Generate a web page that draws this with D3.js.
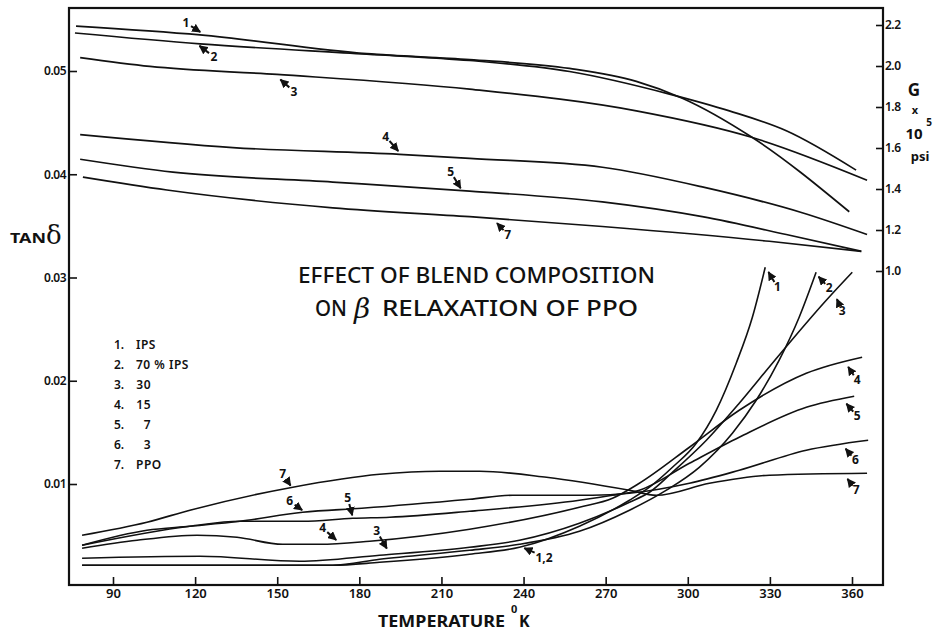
<!DOCTYPE html>
<html>
<head>
<meta charset="utf-8">
<script src="https://cdn.jsdelivr.net/npm/d3@7"></script>
<style>
  body { margin: 0; background: #fff; }
  svg { display: block; }
  text { font-family: "Noto Sans", "DejaVu Sans", sans-serif; fill: #111; }
</style>
</head>
<body>
<div id="chart"></div>
<script>
// temperature ticks (K) and axis tick values
const tempTicks = [90, 120, 150, 180, 210, 240, 270, 300, 330, 360];
const tanTicks = [0.01, 0.02, 0.03, 0.04, 0.05];
const gTicks = [1.0, 1.2, 1.4, 1.6, 1.8, 2.0, 2.2];

// shear modulus G x 10^5 psi (right axis), [T, G]
const gCurve1 = [[76.5, 2.195], [121.8, 2.152], [182.7, 2.06], [220.3, 2.031], [256.8, 1.988], [281.2, 1.925], [298.0, 1.843], [323.6, 1.651], [359.0, 1.289]];
const gCurve2 = [[76.1, 2.161], [121.8, 2.108], [182.7, 2.058], [220.3, 2.027], [256.8, 1.973], [293.3, 1.863], [315.2, 1.781], [336.0, 1.684], [361.5, 1.492]];
const gCurve3 = [[78.0, 2.041], [103.5, 1.998], [149.9, 1.959], [220.3, 1.887], [281.2, 1.781], [323.6, 1.651], [365.5, 1.443]];
const gCurve4 = [[78.0, 1.665], [133.8, 1.602], [194.7, 1.569], [220.3, 1.549], [268.8, 1.506], [305.3, 1.41], [341.8, 1.284], [365.5, 1.178]];
const gCurve5 = [[78.0, 1.545], [111.9, 1.482], [170.3, 1.434], [220.3, 1.39], [268.8, 1.337], [305.3, 1.265], [336.0, 1.178], [363.4, 1.096]];
const gCurve7 = [[79.0, 1.458], [109.7, 1.395], [170.3, 1.308], [220.3, 1.265], [268.8, 1.217], [329.8, 1.145], [363.4, 1.096]];

// loss tangent (left axis), [T, tan delta]
const tanCurve1 = [[78.7, 0.00213], [170.3, 0.00213], [187.4, 0.00242], [220.3, 0.0032], [238.5, 0.00387], [260.4, 0.00591], [278.7, 0.00843], [286.0, 0.00969], [294.4, 0.01162], [303.1, 0.01395], [310.4, 0.01714], [317.7, 0.0217], [323.6, 0.02615], [328.3, 0.03099]];
const tanCurve2 = [[78.7, 0.00213], [170.3, 0.00213], [187.4, 0.00271], [220.3, 0.00358], [238.5, 0.00416], [260.4, 0.00542], [278.7, 0.00746], [292.2, 0.0094], [304.2, 0.01162], [316.3, 0.01492], [325.0, 0.01811], [333.4, 0.02199], [340.7, 0.02615], [346.9, 0.03051]];
const tanCurve3 = [[78.7, 0.00281], [121.8, 0.003], [158.2, 0.00252], [187.4, 0.0031], [220.3, 0.00387], [238.5, 0.00455], [260.4, 0.0062], [278.7, 0.00823], [286.0, 0.0092], [294.4, 0.01114], [306.8, 0.01424], [318.8, 0.01782], [330.9, 0.0217], [350.6, 0.0278], [360.1, 0.03051]];
const tanCurve4 = [[78.7, 0.00378], [98.8, 0.00455], [120.7, 0.00504], [135.3, 0.00484], [152.0, 0.00416], [165.5, 0.00416], [183.8, 0.00446], [220.3, 0.00562], [260.4, 0.00775], [272.5, 0.00862], [282.3, 0.01007], [300.6, 0.01356], [318.8, 0.01714], [343.3, 0.02073], [363.7, 0.02228]];
const tanCurve5 = [[78.7, 0.00407], [118.1, 0.00591], [136.4, 0.00639], [159.3, 0.00639], [177.6, 0.00668], [191.1, 0.00678], [220.3, 0.00736], [260.4, 0.00843], [272.5, 0.00891], [282.3, 0.0094], [300.6, 0.01201], [318.8, 0.01453], [343.3, 0.01743], [360.8, 0.0185]];
const tanCurve6 = [[78.7, 0.00407], [102.4, 0.00552], [118.1, 0.00591], [136.4, 0.00639], [159.3, 0.00726], [180.9, 0.00765], [220.3, 0.00852], [236.0, 0.00891], [265.2, 0.00891], [278.7, 0.0091], [300.6, 0.01007], [318.8, 0.01133], [343.3, 0.01327], [365.9, 0.01424]];
const tanCurve7 = [[78.7, 0.00504], [102.4, 0.0063], [118.1, 0.00746], [155.7, 0.00969], [187.4, 0.01094], [209.3, 0.01123], [224.0, 0.01123], [248.4, 0.01065], [278.7, 0.00939], [288.5, 0.00891], [307.9, 0.01007], [329.8, 0.01085], [365.5, 0.01104]];

// legend
const legendNums = ["1.", "2.", "3.", "4.", "5.", "6.", "7."];
const legendNames = ["IPS", "70 % IPS", "30", "15", "7", "3", "PPO"];

// curve labels: [text, T, value] arrow tip, separate label offsets below
const gNotes = [["1", 122.5, 2.161], ["2", 121.0, 2.104], ["3", 150.6, 1.94], ["4", 194.7, 1.578], ["5", 217.4, 1.395], ["7", 229.8, 1.241]];
const tanNotes = [["1", 329.1, 0.0307], ["2", 347.3, 0.03022], ["3", 354.2, 0.02809], ["4", 358.2, 0.0215], ["5", 357.5, 0.01792], ["6", 357.2, 0.01356], ["7", 357.9, 0.01065],
                  ["7", 155.3, 0.00969], ["6", 159.7, 0.00736], ["5", 177.6, 0.00678], ["4", 172.1, 0.00446], ["3", 190.4, 0.00358], ["1,2", 239.6, 0.00387]];
const gOffsets = [[-16, -10], [16, 12], [15, 13], [-14, -16], [-11, -18], [12, 13]];
const tanOffsets = [[10, 17], [12, 13], [6, 14], [10, 15], [12, 14], [11, 13], [10, 13],
                    [-9, -13], [-14, -10], [-5, -19], [-15, -13], [-11, -19], [25, 11]];

const width = 938, height = 633;
const frame = {left: 69, right: 883, top: 8, bottom: 585};

const svg = d3.select("#chart").append("svg")
  .attr("width", width)
  .attr("height", height);

const x = d3.scaleLinear().domain([90, 360]).range([113, 852]);
const yTan = d3.scaleLinear().domain([0.01, 0.05]).range([484, 71]);
const yG = d3.scaleLinear().domain([1.0, 2.2]).range([271, 25]);

svg.append("defs").append("marker")
  .attr("id", "head")
  .attr("viewBox", "0 0 10 10")
  .attr("refX", 9).attr("refY", 5)
  .attr("markerWidth", 4.5).attr("markerHeight", 4.5)
  .attr("orient", "auto")
  .append("path")
  .attr("d", "M0,0 L10,5 L0,10 Z")
  .attr("fill", "#111");

// frame
svg.append("rect")
  .attr("x", frame.left).attr("y", frame.top)
  .attr("width", frame.right - frame.left)
  .attr("height", frame.bottom - frame.top)
  .attr("fill", "none")
  .attr("stroke", "#111")
  .attr("stroke-width", 2.2);

// axes
const xAxis = svg.append("g")
  .attr("transform", `translate(0,${frame.bottom})`)
  .call(d3.axisBottom(x).tickValues(tempTicks).tickSize(-8).tickPadding(4));

const leftAxis = svg.append("g")
  .attr("transform", `translate(${frame.left},0)`)
  .call(d3.axisLeft(yTan).tickValues(tanTicks).tickSize(-8).tickPadding(3).tickFormat(d3.format(".2f")));

const rightAxis = svg.append("g")
  .attr("transform", `translate(${frame.right},0)`)
  .call(d3.axisRight(yG).tickValues(gTicks).tickSize(-7).tickPadding(2).tickFormat(d3.format(".1f")));

[xAxis, leftAxis, rightAxis].forEach(a => {
  a.select(".domain").remove();
  a.selectAll(".tick line").attr("stroke", "#111").attr("stroke-width", 1.6);
  a.selectAll(".tick text")
    .attr("fill", "#111")
    .style("font-family", '"Noto Sans", sans-serif')
    .style("font-weight", 600);
});
xAxis.selectAll(".tick text").style("font-size", "13px");
leftAxis.selectAll(".tick text").style("font-size", "12px").attr("letter-spacing", -0.5);
rightAxis.selectAll(".tick text").style("font-size", "12px").attr("letter-spacing", -0.5);

// curves
const lineG = d3.line().x(d => x(d[0])).y(d => yG(d[1])).curve(d3.curveMonotoneX);
const lineTan = d3.line().x(d => x(d[0])).y(d => yTan(d[1])).curve(d3.curveMonotoneX);

const gSeries = [gCurve1, gCurve2, gCurve3, gCurve4, gCurve5, gCurve7];
const tanSeries = [tanCurve1, tanCurve2, tanCurve3, tanCurve4, tanCurve5, tanCurve6, tanCurve7];

svg.append("g").selectAll("path")
  .data(gSeries)
  .join("path")
  .attr("d", lineG)
  .attr("fill", "none")
  .attr("stroke", "#111")
  .attr("stroke-width", 1.7);

svg.append("g").selectAll("path")
  .data(tanSeries)
  .join("path")
  .attr("d", lineTan)
  .attr("fill", "none")
  .attr("stroke", "#111")
  .attr("stroke-width", 1.6);

// curve labels with small arrows
function addNotes(notes, offsets, yScale) {
  const g = svg.append("g");
  notes.forEach((n, i) => {
    const tx = x(n[1]), ty = yScale(n[2]);
    const [dx, dy] = offsets[i];
    const len = Math.hypot(dx, dy);
    const back = n[0].length > 1 ? 14 : 6;
    g.append("line")
      .attr("x1", tx + dx * (len - back) / len)
      .attr("y1", ty + dy * (len - back) / len)
      .attr("x2", tx + dx * 2 / len)
      .attr("y2", ty + dy * 2 / len)
      .attr("stroke", "#111")
      .attr("stroke-width", 2)
      .attr("marker-end", "url(#head)");
    g.append("text")
      .attr("x", tx + dx)
      .attr("y", ty + dy)
      .attr("text-anchor", n[0].length > 1 ? "start" : "middle")
      .attr("dx", n[0].length > 1 ? -12 : 0)
      .attr("dy", "0.35em")
      .style("font-size", "12px")
      .style("font-weight", 700)
      .text(n[0]);
  });
}
addNotes(gNotes, gOffsets, yG);
addNotes(tanNotes, tanOffsets, yTan);

// legend
const legend = svg.append("g").style("font-size", "12px").style("font-weight", 600);
legendNums.forEach((t, i) => {
  const yy = 349 + i * 20;
  legend.append("text").attr("x", 114).attr("y", yy).text(t);
  const numeric = /^\d+$/.test(legendNames[i]);
  legend.append("text")
    .attr("x", numeric ? 151 : 136)
    .attr("y", yy)
    .attr("text-anchor", numeric ? "end" : "start")
    .attr("letter-spacing", 0.5)
    .text(legendNames[i]);
});

// title
const title = svg.append("g").style("font-size", "21px").style("font-weight", 500);
title.append("text")
  .attr("x", 298).attr("y", 283)
  .attr("textLength", 357).attr("lengthAdjust", "spacingAndGlyphs")
  .text("EFFECT OF BLEND COMPOSITION");
title.append("text")
  .attr("x", 315).attr("y", 316)
  .attr("textLength", 32).attr("lengthAdjust", "spacingAndGlyphs")
  .text("ON");
title.append("text")
  .attr("x", 354).attr("y", 318)
  .style("font-family", '"DejaVu Serif", serif')
  .style("font-style", "italic")
  .style("font-weight", 400)
  .style("font-size", "28px")
  .text("β");
title.append("text")
  .attr("x", 382).attr("y", 316)
  .attr("textLength", 256).attr("lengthAdjust", "spacingAndGlyphs")
  .text("RELAXATION OF PPO");

// axis titles
svg.append("text")
  .attr("x", 378).attr("y", 627)
  .attr("textLength", 127).attr("lengthAdjust", "spacingAndGlyphs")
  .style("font-size", "16px").style("font-weight", 700)
  .text("TEMPERATURE");
svg.append("text").attr("x", 511).attr("y", 613)
  .style("font-size", "11px").style("font-weight", 700).text("0");
svg.append("text").attr("x", 519).attr("y", 627)
  .style("font-size", "16px").style("font-weight", 700).text("K");

svg.append("text").attr("x", 10).attr("y", 243)
  .attr("textLength", 36).attr("lengthAdjust", "spacingAndGlyphs")
  .style("font-size", "14px").style("font-weight", 700).text("TAN");
svg.append("text").attr("x", 46).attr("y", 244)
  .style("font-family", '"DejaVu Serif", serif')
  .style("font-size", "26px")
  .text("δ");

const gl = svg.append("g").style("font-weight", 700).attr("text-anchor", "middle");
gl.append("text").attr("x", 914).attr("y", 96).style("font-size", "17px").text("G");
gl.append("text").attr("x", 915).attr("y", 114).style("font-size", "11px").text("x");
gl.append("text").attr("x", 914).attr("y", 139).style("font-size", "15px").text("10");
gl.append("text").attr("x", 929).attr("y", 126).style("font-size", "10px").text("5");
gl.append("text").attr("x", 920).attr("y", 161).style("font-size", "13px").text("psi");
</script>
</body>
</html>
